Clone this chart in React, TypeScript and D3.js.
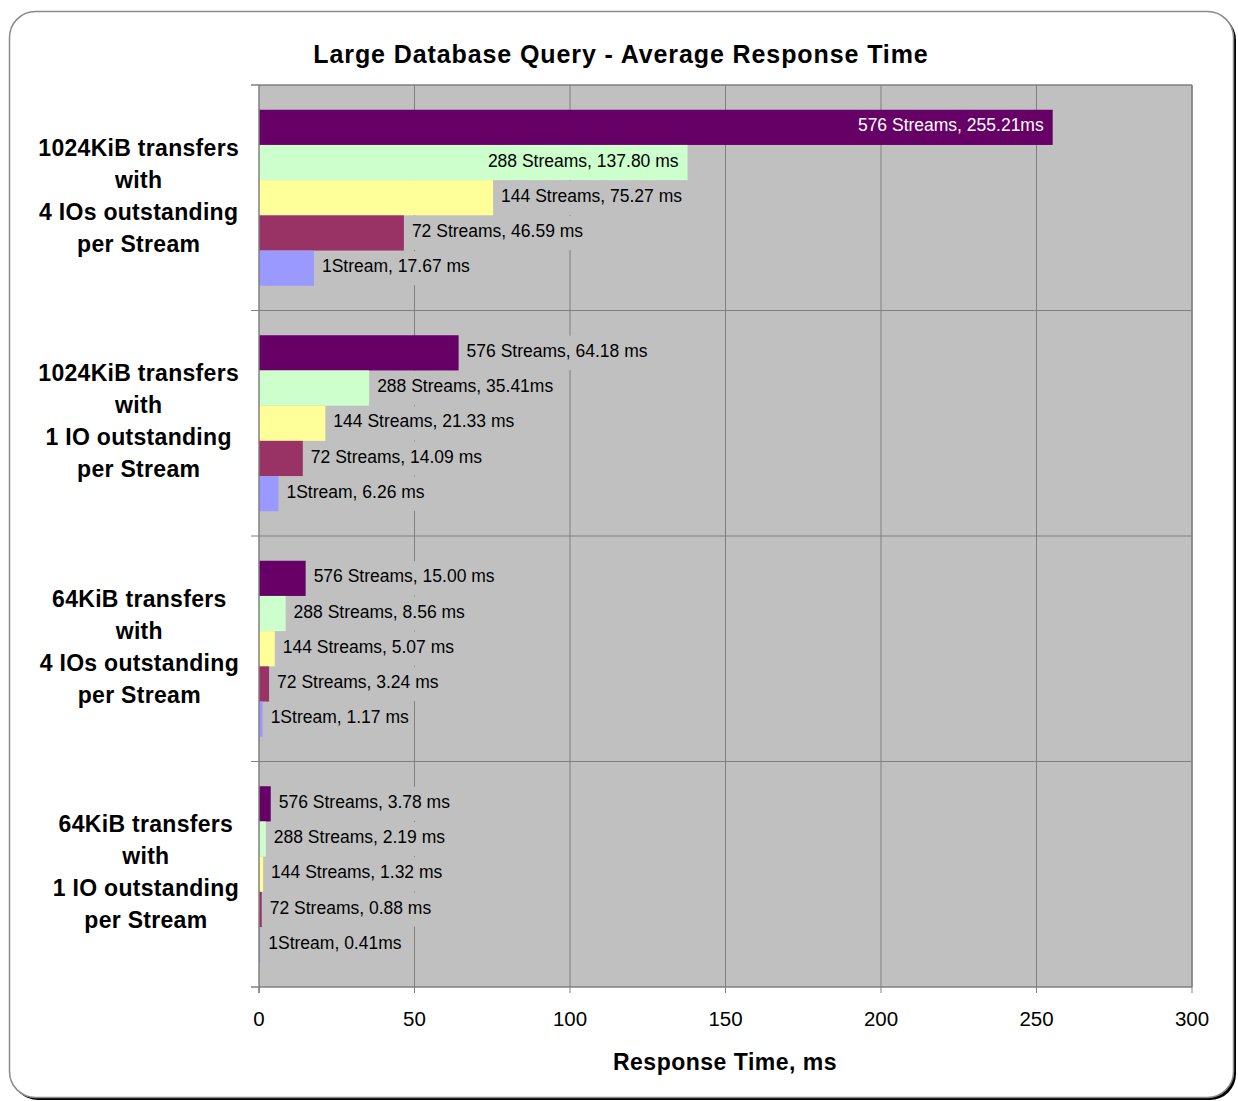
import React, { useEffect, useRef } from "react";
import * as d3 from "d3";

const title = "Large Database Query - Average Response Time";
const xAxisTitle = "Response Time, ms";
const groups = [
  ["1024KiB transfers", "with", "4 IOs outstanding", "per Stream"],
  ["1024KiB transfers", "with", "1 IO outstanding", "per Stream"],
  ["64KiB transfers", "with", "4 IOs outstanding", "per Stream"],
  ["64KiB transfers", "with", "1 IO outstanding", "per Stream"],
];
const seriesNames = ["576 Streams", "288 Streams", "144 Streams", "72 Streams", "1Stream"];
const seriesColors = ["#660066", "#CCFFCC", "#FFFF99", "#993366", "#9999FF"];
const labelColorsInside = ["#ffffff", "#000000", "#000000", "#ffffff", "#000000"];
const values = [
  [255.21, 137.8, 75.27, 46.59, 17.67],
  [64.18, 35.41, 21.33, 14.09, 6.26],
  [15.0, 8.56, 5.07, 3.24, 1.17],
  [3.78, 2.19, 1.32, 0.88, 0.41],
];
const valueLabels = [
  ["255.21ms", "137.80 ms", "75.27 ms", "46.59 ms", "17.67 ms"],
  ["64.18 ms", "35.41ms", "21.33 ms", "14.09 ms", "6.26 ms"],
  ["15.00 ms", "8.56 ms", "5.07 ms", "3.24 ms", "1.17 ms"],
  ["3.78 ms", "2.19 ms", "1.32 ms", "0.88 ms", "0.41ms"],
];
const xTicks = [0, 50, 100, 150, 200, 250, 300];
const insideThreshold = 100;

const W = 1238, H = 1101;
const FONT = "'Liberation Sans', Arial, sans-serif";

export default function App() {
  const ref = useRef<SVGSVGElement>(null);
  useEffect(() => {
    const svg = d3.select(ref.current);
    svg.selectAll("*").remove();
    const left = 259, right = 1192, top = 85, bottom = 987;

    // frame
    svg.append("rect").attr("x", 12).attr("y", 14).attr("width", 1224).attr("height", 1086)
      .attr("rx", 26).attr("fill", "#000");
    svg.append("rect").attr("x", 9.5).attr("y", 11.5).attr("width", 1224).attr("height", 1086)
      .attr("rx", 26).attr("fill", "#fff").attr("stroke", "#8a8a8a").attr("stroke-width", 1.5);

    const x = d3.scaleLinear().domain([0, 300]).range([left, right]);
    const gIdx = groups.map((_, i) => String(i));
    const y0 = d3.scaleBand().domain(gIdx).range([top, bottom]).padding(0);
    const y1 = d3.scaleBand().domain(seriesNames).range([0, y0.bandwidth()]).paddingInner(0).paddingOuter(0.703);

    // plot area
    svg.append("rect").attr("x", left).attr("y", top).attr("width", right - left).attr("height", bottom - top)
      .attr("fill", "#C0C0C0");
    // vertical gridlines
    svg.append("g").selectAll("line").data(xTicks.slice(1)).join("line")
      .attr("x1", d => x(d)).attr("x2", d => x(d)).attr("y1", top).attr("y2", bottom)
      .attr("stroke", "#808080").attr("stroke-width", 1);
    // horizontal group separators
    svg.append("g").selectAll("line").data(gIdx.slice(1)).join("line")
      .attr("x1", left - 8).attr("x2", right).attr("y1", d => y0(d)!).attr("y2", d => y0(d)!)
      .attr("stroke", "#808080").attr("stroke-width", 1);
    // top border and left tick
    svg.append("line").attr("x1", left - 8).attr("x2", right).attr("y1", top).attr("y2", top)
      .attr("stroke", "#808080").attr("stroke-width", 1.5);

    // bars and labels
    const fs = 17.5;
    groups.forEach((_, gi) => {
      const gy = y0(String(gi))!;
      seriesNames.forEach((s, si) => {
        const v = values[gi][si];
        const by = gy + y1(s)!;
        const bh = y1.bandwidth();
        svg.append("rect").attr("x", x(0)).attr("y", by).attr("width", x(v) - x(0)).attr("height", bh)
          .attr("fill", seriesColors[si]);
        const label = `${s}, ${valueLabels[gi][si]}`;
        const t = svg.append("text").attr("font-family", FONT).attr("font-size", fs)
          .attr("y", by + bh / 2 - 2).attr("dy", "0.35em").text(label);
        const tw = (t.node() as SVGTextElement).getComputedTextLength();
        const outX = x(v) + 8;
        if (v > insideThreshold || outX + tw > right) {
          t.attr("x", x(v) - 9).attr("text-anchor", "end").attr("fill", labelColorsInside[si]);
        } else {
          t.attr("x", outX).attr("fill", "#000");
          svg.insert("rect", () => t.node() as any).attr("x", outX - 3).attr("y", by + 0.5)
            .attr("width", tw + 6).attr("height", bh - 1).attr("fill", "#C0C0C0");
        }
      });
    });

    // right border
    svg.append("line").attr("x1", right).attr("x2", right).attr("y1", top).attr("y2", bottom)
      .attr("stroke", "#808080").attr("stroke-width", 1.5);
    // left axis
    svg.append("line").attr("x1", left).attr("x2", left).attr("y1", top).attr("y2", bottom + 6)
      .attr("stroke", "#808080").attr("stroke-width", 1.5);
    // bottom axis
    svg.append("line").attr("x1", left - 8).attr("x2", right).attr("y1", bottom).attr("y2", bottom)
      .attr("stroke", "#808080").attr("stroke-width", 1.5);
    svg.append("g").selectAll("line").data(xTicks).join("line")
      .attr("x1", d => x(d)).attr("x2", d => x(d)).attr("y1", bottom).attr("y2", bottom + 6)
      .attr("stroke", "#808080").attr("stroke-width", 1);
    svg.append("g").selectAll("text").data(xTicks).join("text")
      .attr("x", d => x(d)).attr("y", 1026).attr("text-anchor", "middle")
      .attr("font-family", FONT).attr("font-size", 20.5).attr("fill", "#000").text(d => String(d));

    // category labels
    groups.forEach((lines, gi) => {
      const cy = y0(String(gi))! + y0.bandwidth() / 2;
      const g = svg.append("g");
      const texts = lines.map((ln, li) =>
        g.append("text").attr("font-family", FONT).attr("font-size", 23).attr("font-weight", "bold")
          .attr("letter-spacing", 0.3)
          .attr("text-anchor", "middle").attr("y", cy + (li - 1.5) * 32 - 2).attr("dy", "0.35em").text(ln));
      const maxW = d3.max(texts, t => (t.node() as SVGTextElement).getComputedTextLength())!;
      texts.forEach(t => t.attr("x", 239 - maxW / 2));
    });

    // titles
    svg.append("text").attr("x", 621).attr("y", 63).attr("text-anchor", "middle")
      .attr("font-family", FONT).attr("font-size", 25).attr("font-weight", "bold")
      .attr("letter-spacing", 0.9).text(title);
    svg.append("text").attr("x", 725).attr("y", 1070).attr("text-anchor", "middle")
      .attr("font-family", FONT).attr("font-size", 23).attr("font-weight", "bold")
      .attr("letter-spacing", 0.5).text(xAxisTitle);
  }, []);
  return (
    <div style={{ position: "absolute", left: 0, top: 0 }}>
      <svg ref={ref} width={W} height={H} style={{ display: "block" }} />
    </div>
  );
}
